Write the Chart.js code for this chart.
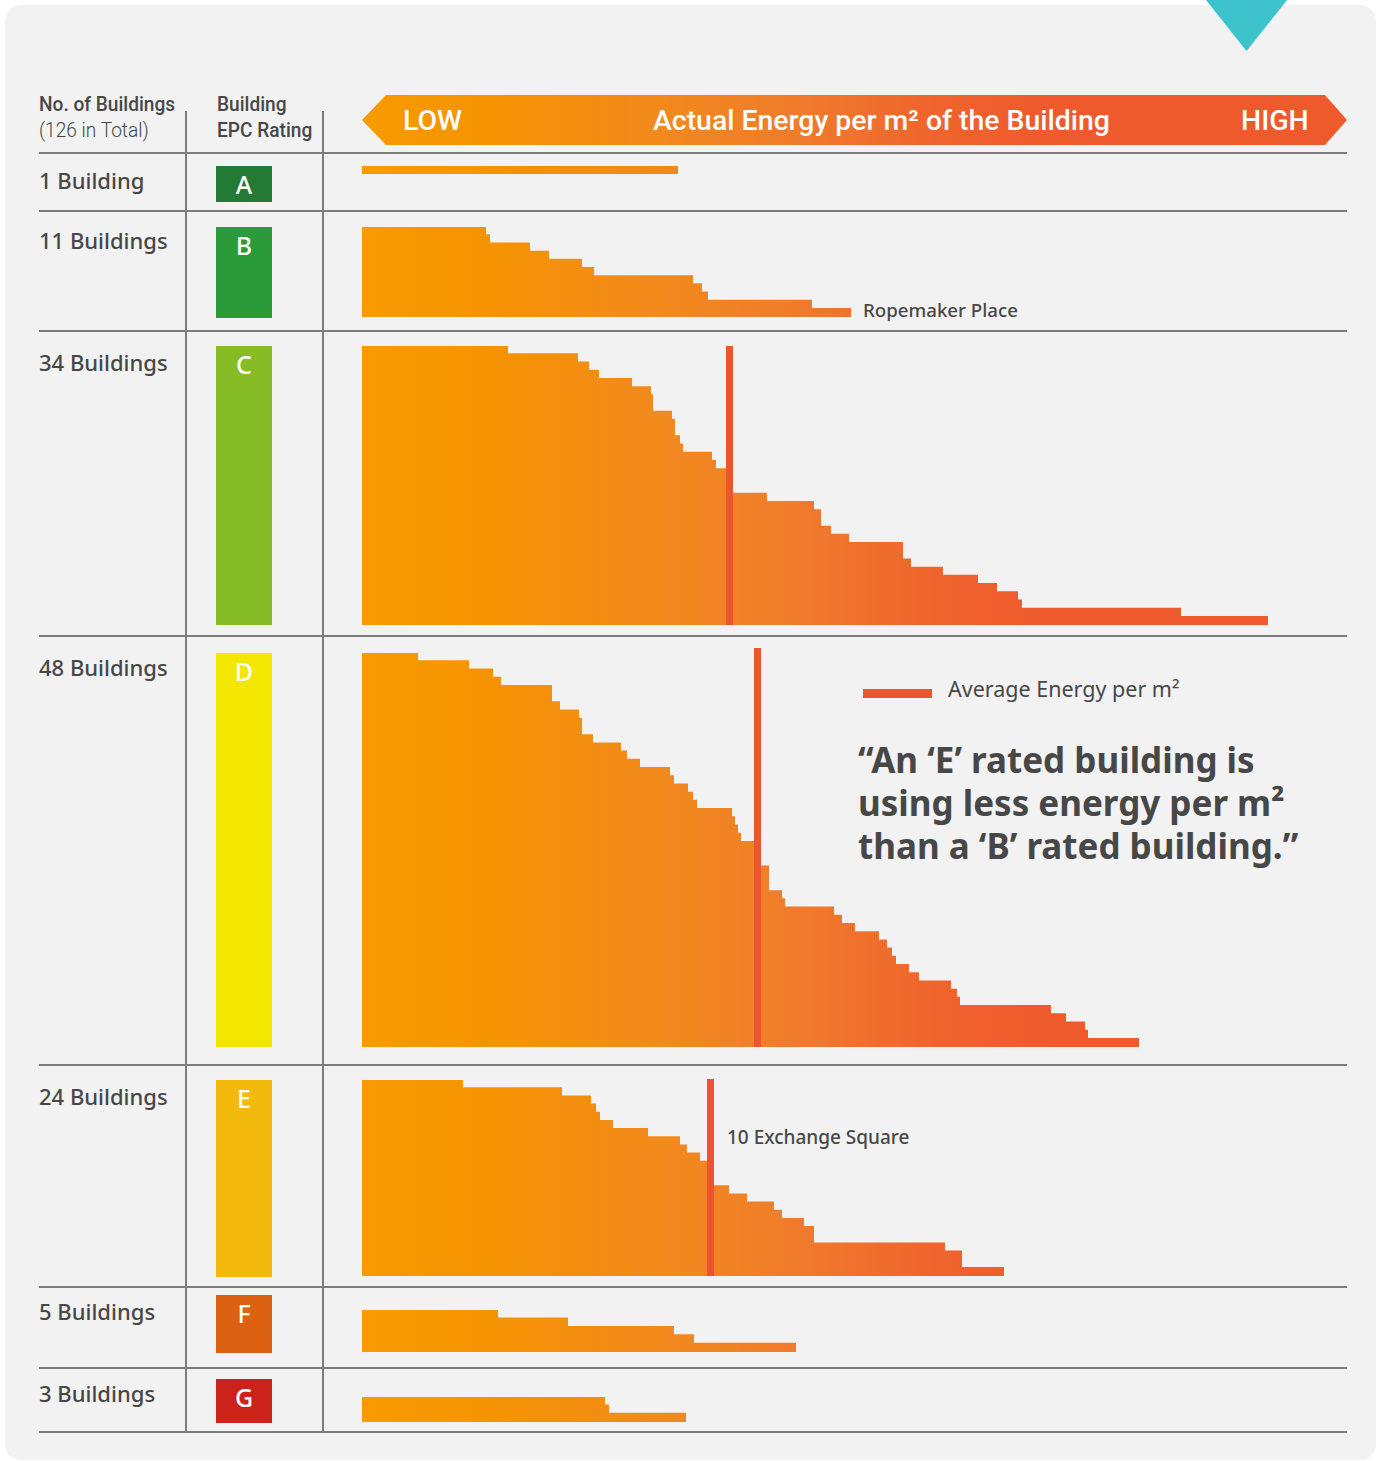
<!DOCTYPE html>
<html>
<head>
<meta charset="utf-8">
<title>EPC rating vs actual energy</title>
<script src="https://cdn.jsdelivr.net/npm/chart.js@4.4.1/dist/chart.umd.min.js"></script>
<style>
  body { margin: 0; width: 1381px; height: 1461px; position: relative; overflow: hidden; background: #fff; font-family: 'Noto Sans', sans-serif; color: #474747; }
  .panel { position: absolute; left: 5px; top: 5px; width: 1371px; height: 1455px; background: #f2f2f2; border-radius: 16px; }
  .tri { position: absolute; left: 1206px; top: 0; width: 81px; height: 51px; background: #3cc3cb; clip-path: polygon(0 0, 100% 0, 50% 100%); }
  .hline { position: absolute; left: 39px; width: 1308px; height: 2px; background: #7d7d7d; }
  .vline { position: absolute; top: 111px; height: 1322px; width: 2px; background: #7d7d7d; }
  .head { position: absolute; font-family: Roboto, sans-serif; font-size: 21px; line-height: 26px; white-space: nowrap; transform: scaleX(0.91); transform-origin: 0 50%; }
  .count { position: absolute; left: 39px; font-size: 22px; font-weight: 500; line-height: 30px; white-space: nowrap; }
  .epc { position: absolute; left: 216px; width: 56px; color: #fff; font-size: 25px; font-weight: 500; line-height: 36px; text-align: center; }
  .arrow { position: absolute; left: 362px; top: 95px; width: 985px; height: 50px;
    background: linear-gradient(to right, #f89a00 0%, #f59400 12%, #f28a1c 30%, #f07a2c 45%, #ef642c 58%, #ee5a2c 70%, #ee5a2c 100%);
    clip-path: polygon(0 50%, 24px 0, calc(100% - 22px) 0, 100% 50%, calc(100% - 22px) 100%, 24px 100%); }
  .arrow span { position: absolute; top: 1px; line-height: 50px; color: #fff; font-family: Roboto, sans-serif; font-weight: 500; font-size: 28.4px; white-space: nowrap; }
  canvas.grp { position: absolute; left: 362px; }
  .note { position: absolute; font-weight: 500; line-height: 24px; white-space: nowrap; }
  .legend-key { position: absolute; left: 863px; top: 689px; width: 69px; height: 9px; background: #ec5530; }
  .quote { position: absolute; left: 858px; top: 738px; font-size: 35px; font-weight: 700; line-height: 43px; color: #474747; white-space: nowrap; }
</style>
</head>
<body>
<div class="panel"></div>
<div class="tri"></div>

<div class="head" style="left:39px;top:91px;font-weight:500;">No. of Buildings</div>
<div class="head" style="left:39px;top:117px;font-weight:300;">(126 in Total)</div>
<div class="head" style="left:217px;top:91px;font-weight:500;">Building</div>
<div class="head" style="left:217px;top:117px;font-weight:500;">EPC Rating</div>

<div class="arrow">
  <span style="left:41px;">LOW</span>
  <span style="left:291px;">Actual Energy per m² of the Building</span>
  <span style="left:879px;">HIGH</span>
</div>

<div class="vline" style="left:185px;"></div>
<div class="vline" style="left:322px;"></div>

<div class="note" style="left:863px;top:298px;font-size:18.7px;">Ropemaker Place</div>
<div class="note" style="left:727px;top:1125px;font-size:19px;">10 Exchange Square</div>

<div class="legend-key"></div>
<div class="note" style="left:948px;top:677px;font-size:21.5px;font-weight:400;">Average Energy per m²</div>
<div class="quote">“An ‘E’ rated building is<br>using less energy per m²<br>than a ‘B’ rated building.”</div>

<script>
// EPC bands and the buildings in each, sorted from lowest to highest energy use
const ratings = ['A', 'B', 'C', 'D', 'E', 'F', 'G'];
const ratingColours = ['#227a35', '#2b9a38', '#86bc26', '#f3e600', '#f3ba0d', '#dc6112', '#cb2219'];
const buildingCounts = ['1 Building', '11 Buildings', '34 Buildings', '48 Buildings', '24 Buildings', '5 Buildings', '3 Buildings'];

// actual energy per m² (relative units, 0 = LOW end of the scale)
const energyA = [316];
const energyB = [124, 128, 168, 187, 220, 232, 331, 340, 346, 450, 489];
const energyC = [146, 216, 227, 237, 270, 289, 291, 291, 310, 313, 313, 318, 321, 350, 354, 365, 367, 369,
                 405, 452, 459, 459, 469, 487, 541, 541, 549, 581, 616, 635, 656, 660, 819, 906];
const energyD = [56, 107, 131, 139, 190, 190, 198, 217, 220, 220, 231, 259, 265, 278, 308, 312, 326, 331, 335,
                 370, 373, 376, 379, 393, 395, 397, 407, 407, 407, 420, 423, 472, 480, 493, 517, 525, 530, 534,
                 547, 557, 589, 595, 598, 689, 704, 723, 726, 777];
const energyE = [101, 200, 229, 234, 238, 251, 286, 318, 325, 338, 346, 348, 350, 367, 385, 412, 420, 442,
                 452, 452, 583, 600, 600, 642];
const energyF = [136, 206, 312, 332, 434];
const energyG = [243, 247, 324];
const energyByRating = [energyA, energyB, energyC, energyD, energyE, energyF, energyG];

// average energy per m² marked for the larger bands
const averageEnergy = [null, null, 367.5, 395.5, 348.5, null, null];

const scaleMax = 985;

// layout of each band: label/box top, box height, bar block top and height
const rowLines = [153, 211, 331, 636, 1065, 1287, 1368, 1432];
const labelTops = [165, 225, 347, 652, 1081, 1296, 1378];
const boxTops = [166, 227, 346, 653, 1080, 1295, 1379];
const boxHeights = [36, 91, 279, 394, 197, 58, 44];
const barTops = [166, 227, 346, 653, 1080, 1310, 1397];
const barHeights = [8, 90, 279, 394, 196, 42, 25];
const lineOverhang = [0, 0, 0, 5, 1, 0, 0];

rowLines.forEach(y => {
  const d = document.createElement('div');
  d.className = 'hline';
  d.style.top = (y - 1) + 'px';
  document.body.appendChild(d);
});

function barGradient(chart) {
  const area = chart.chartArea;
  if (!area) return '#f59400';
  const g = chart.ctx.createLinearGradient(area.left, 0, area.right, 0);
  g.addColorStop(0, '#f89a00');
  g.addColorStop(0.12, '#f59400');
  g.addColorStop(0.3, '#f28a1c');
  g.addColorStop(0.45, '#f07a2c');
  g.addColorStop(0.58, '#ef642c');
  g.addColorStop(0.7, '#ee5a2c');
  g.addColorStop(1, '#ee5a2c');
  return g;
}

// vertical bar showing the band average
const averageLine = {
  id: 'averageLine',
  afterDatasetsDraw(chart, args, opts) {
    if (opts.value == null) return;
    const x = chart.scales.x.getPixelForValue(opts.value);
    const ctx = chart.ctx;
    ctx.save();
    ctx.fillStyle = '#ec5530';
    ctx.fillRect(x - 3.5, 0, 7, chart.height);
    ctx.restore();
  }
};

ratings.forEach((r, i) => {
  const lbl = document.createElement('div');
  lbl.className = 'count';
  lbl.style.top = labelTops[i] + 'px';
  lbl.textContent = buildingCounts[i];
  document.body.appendChild(lbl);

  const box = document.createElement('div');
  box.className = 'epc';
  box.style.top = boxTops[i] + 'px';
  box.style.height = boxHeights[i] + 'px';
  box.style.background = ratingColours[i];
  box.textContent = r;
  document.body.appendChild(box);

  const pad = lineOverhang[i];
  const canvas = document.createElement('canvas');
  canvas.className = 'grp';
  canvas.width = scaleMax;
  canvas.height = barHeights[i] + pad;
  canvas.style.top = (barTops[i] - pad) + 'px';
  document.body.appendChild(canvas);

  const values = energyByRating[i];
  new Chart(canvas, {
    type: 'bar',
    data: {
      labels: values.map((v, k) => r + (k + 1)),
      datasets: [{
        data: values,
        backgroundColor: ctx => barGradient(ctx.chart),
        borderWidth: 0,
        inflateAmount: 0,
        // bars overlap by more than a pixel so anti-aliased edges don't leave seams
        barPercentage: 1.22,
        categoryPercentage: 1
      }]
    },
    options: {
      indexAxis: 'y',
      responsive: false,
      animation: false,
      devicePixelRatio: 1,
      events: [],
      layout: { padding: { top: pad, left: 0, right: 0, bottom: 0 } },
      plugins: {
        legend: { display: false },
        tooltip: { enabled: false },
        averageLine: { value: averageEnergy[i] }
      },
      scales: {
        x: { display: false, min: 0, max: scaleMax },
        y: { display: false }
      }
    },
    plugins: [averageLine]
  });
});
</script>
</body>
</html>
